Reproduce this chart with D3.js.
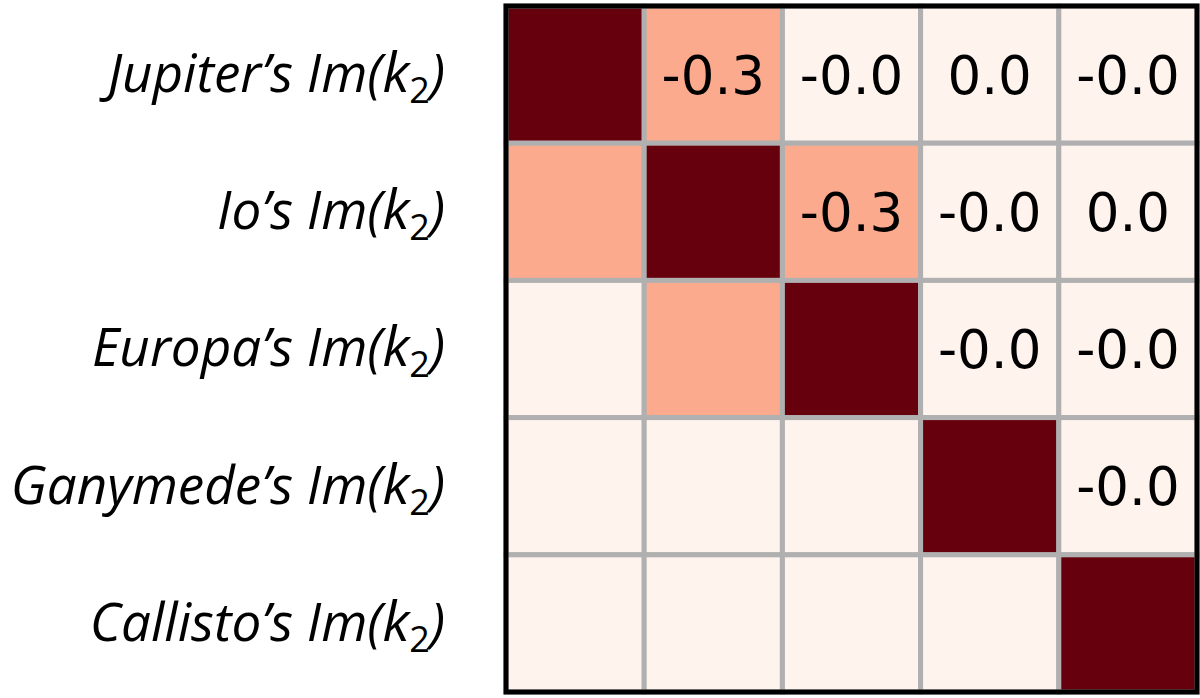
<!DOCTYPE html>
<html>
<head>
<meta charset="utf-8">
<script src="https://cdn.jsdelivr.net/npm/d3@7"></script>
<style>
  body { margin: 0; background: #fff; }
</style>
</head>
<body>
<svg width="1200" height="698"></svg>
<script>
// moons whose Im(k2) enter the correlation matrix
const bodies = ["Jupiter", "Io", "Europa", "Ganymede", "Callisto"];

// correlation rows (upper triangle is labelled)
const row0 = [1.00, -0.30, -0.01, 0.01, -0.01];
const row1 = [-0.30, 1.00, -0.30, -0.01, 0.01];
const row2 = [-0.01, -0.30, 1.00, -0.01, -0.01];
const row3 = [0.01, -0.01, -0.01, 1.00, -0.01];
const row4 = [-0.01, 0.01, -0.01, -0.01, 1.00];
const corr = [row0, row1, row2, row3, row4];

let svg = d3.select("svg");

const mLeft = 506, mTop = 6, mRight = 1197, mBottom = 692;

let x = d3.scaleBand().domain(d3.range(5)).range([mLeft, mRight]);
let y = d3.scaleBand().domain(d3.range(5)).range([mTop, mBottom]);
let color = v => d3.interpolateReds(Math.abs(v));

let cells = [];
corr.forEach((row, i) => row.forEach((v, j) => cells.push({i, j, v})));

svg.append("g")
  .selectAll("rect")
  .data(cells)
  .enter().append("rect")
    .attr("x", d => x(d.j))
    .attr("y", d => y(d.i))
    .attr("width", x.bandwidth())
    .attr("height", y.bandwidth())
    .attr("fill", d => color(d.v))
    .attr("stroke", "#b0b0b0")
    .attr("stroke-width", 5);

// numbers only above the diagonal
svg.append("g")
  .selectAll("text")
  .data(cells.filter(d => d.j > d.i))
  .enter().append("text")
    .attr("x", d => x(d.j) + x.bandwidth() / 2)
    .attr("y", d => y(d.i) + y.bandwidth() / 2)
    .attr("dy", "0.36em")
    .attr("text-anchor", "middle")
    .attr("font-family", "DejaVu Sans")
    .attr("font-size", 53)
    .attr("fill", "#000")
    .text(d => d.v.toFixed(1));

// frame
svg.append("rect")
  .attr("x", mLeft)
  .attr("y", mTop)
  .attr("width", mRight - mLeft)
  .attr("height", mBottom - mTop)
  .attr("fill", "none")
  .attr("stroke", "#000")
  .attr("stroke-width", 5);

// row labels
let label = svg.append("g")
  .selectAll("text")
  .data(bodies)
  .enter().append("text")
    .attr("x", 445)
    .attr("y", (d, i) => y(i) + y.bandwidth() / 2)
    .attr("dy", "0.33em")
    .attr("text-anchor", "end")
    .attr("font-family", "Open Sans")
    .attr("font-style", "italic")
    .attr("font-size", 53)
    .attr("fill", "#000");

label.append("tspan").text(d => d + "\u2019s Im(");
label.append("tspan")
  .attr("font-size", 55)
  .text("k");
label.append("tspan")
  .attr("font-style", "normal")
  .attr("font-size", 36)
  .attr("dy", 11)
  .text("2");
label.append("tspan")
  .attr("dy", -11)
  .text(")");
</script>
</body>
</html>
